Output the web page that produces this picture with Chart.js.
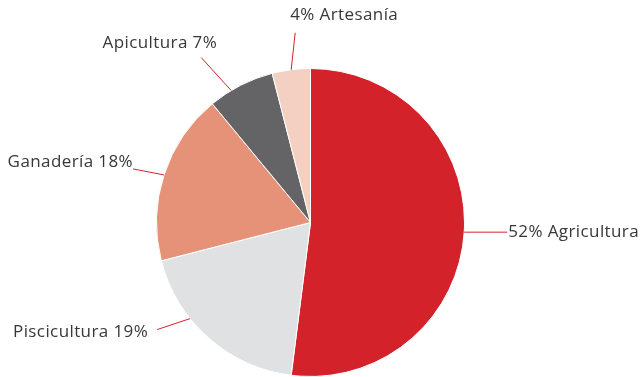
<!DOCTYPE html>
<html lang="es">
<head>
<meta charset="utf-8">
<script src="https://cdn.jsdelivr.net/npm/chart.js@4.4.1/dist/chart.umd.min.js"></script>
<style>
  html, body { margin: 0; padding: 0; background: #fff; }
  #wrap { width: 642px; height: 377px; }
</style>
</head>
<body>
<div id="wrap"><canvas id="pie" width="642" height="377"></canvas></div>
<script>
// ===== Datos =====
const categories = ['Agricultura', 'Piscicultura', 'Ganadería', 'Apicultura', 'Artesanía'];
const values = [52, 19, 18, 7, 4];
const sliceColors = ['#d3222a', '#e0e1e3', '#e59279', '#646466', '#f4d0c3'];
// texto de cada etiqueta (el % delante o detrás, como en el original)
const labelTexts = ['52% Agricultura', 'Piscicultura 19%', 'Ganadería 18%', 'Apicultura 7%', '4% Artesanía'];

// ===== Líneas guía y etiquetas =====
// ajuste de ángulo (grados) del arranque de la línea, vector de la línea,
// desplazamiento del texto respecto al final de la línea
const leaderNudge = [0, 10, 0, -4, 0];
const leaderVec = [[43, 0], [-33, 11], [-31, -6], [-30, -33], [4, -37]];
const textOffset = [[1, 0, 'left'], [-9, 3, 'right'], [0, -7, 'right'], [16, -14, 'right'], [-5, -18, 'left']];

const leaderLabels = {
  id: 'leaderLabels',
  afterDatasetsDraw(chart) {
    const { ctx } = chart;
    const meta = chart.getDatasetMeta(0);
    ctx.save();
    meta.data.forEach((arc, i) => {
      const { x, y, startAngle, endAngle, outerRadius } = arc.getProps(
        ['x', 'y', 'startAngle', 'endAngle', 'outerRadius'], true);
      const a = (startAngle + endAngle) / 2 + leaderNudge[i] * Math.PI / 180;
      const sx = x + Math.cos(a) * outerRadius;
      const sy = y + Math.sin(a) * outerRadius;
      const ex = sx + leaderVec[i][0];
      const ey = sy + leaderVec[i][1];

      ctx.strokeStyle = '#d3222a';
      ctx.lineWidth = 1;
      ctx.beginPath();
      ctx.moveTo(sx, sy);
      ctx.lineTo(ex, ey);
      ctx.stroke();

      ctx.fillStyle = '#383838';
      ctx.font = '17px "Open Sans", sans-serif';
      ctx.letterSpacing = '0.4px';
      ctx.textAlign = textOffset[i][2];
      ctx.textBaseline = 'middle';
      ctx.fillText(labelTexts[i], ex + textOffset[i][0], ey + textOffset[i][1]);
    });
    ctx.restore();
  },
};

// ===== Gráfico =====
new Chart(document.getElementById('pie'), {
  type: 'pie',
  data: {
    labels: categories,
    datasets: [{
      data: values,
      backgroundColor: sliceColors,
      borderColor: '#ffffff',
      borderWidth: 1,
      hoverOffset: 0,
    }],
  },
  options: {
    responsive: false,
    animation: false,
    layout: { padding: { top: 68, bottom: 0, left: 156, right: 177 } },
    plugins: {
      legend: { display: false },
      tooltip: { enabled: false },
    },
  },
  plugins: [leaderLabels],
});
</script>
</body>
</html>
